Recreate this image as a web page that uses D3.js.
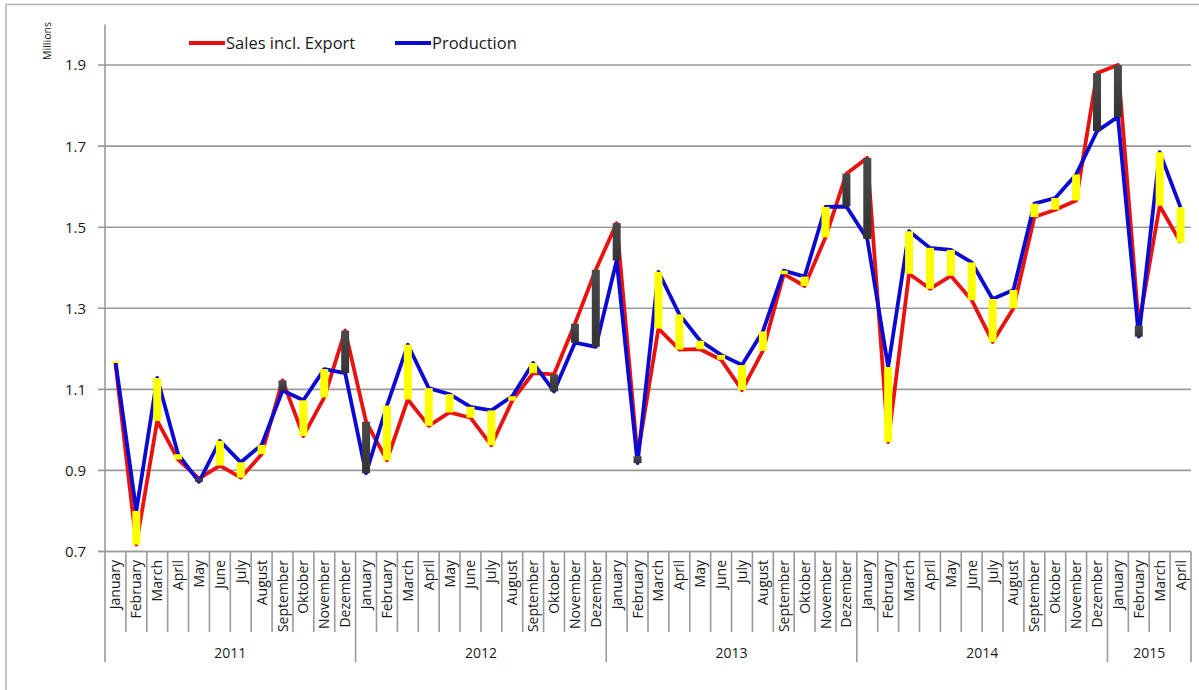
<!DOCTYPE html>
<html>
<head>
<meta charset="utf-8">
<script src="https://cdn.jsdelivr.net/npm/d3@7"></script>
<style>
  html, body { margin: 0; padding: 0; background: #fff; }
  svg { display: block; font-family: "Open Sans", Lato, sans-serif; }
</style>
</head>
<body>
<svg id="chart" width="1199" height="690"></svg>
<script>
// Monthly sales (incl. export) and production, in millions
const years = ["2011", "2012", "2013", "2014", "2015"];
const monthNames = ["January", "February", "March", "April", "May", "June", "July",
  "August", "September", "Oktober", "November", "Dezember"];
const monthsPerYear = [12, 12, 12, 12, 4];

const sales = [
  1.165, 0.717, 1.022, 0.927, 0.880, 0.912, 0.882, 0.940, 1.122, 0.985, 1.080, 1.245,
  1.020, 0.925, 1.075, 1.010, 1.043, 1.030, 0.962, 1.072, 1.140, 1.137, 1.262, 1.395,
  1.510, 0.935, 1.250, 1.198, 1.199, 1.173, 1.098, 1.195, 1.384, 1.355, 1.475, 1.632,
  1.671, 0.970, 1.385, 1.348, 1.380, 1.320, 1.217, 1.300, 1.525, 1.543, 1.566, 1.880,
  1.900, 1.257, 1.553, 1.462
];
const production = [
  1.170, 0.800, 1.128, 0.940, 0.872, 0.973, 0.920, 0.963, 1.097, 1.073, 1.150, 1.140,
  0.893, 1.060, 1.210, 1.103, 1.088, 1.057, 1.048, 1.083, 1.165, 1.095, 1.215, 1.205,
  1.418, 0.918, 1.390, 1.285, 1.220, 1.185, 1.160, 1.243, 1.393, 1.378, 1.550, 1.551,
  1.471, 1.155, 1.490, 1.449, 1.444, 1.413, 1.323, 1.345, 1.558, 1.572, 1.630, 1.737,
  1.772, 1.230, 1.685, 1.549
];
const yTicks = [0.7, 0.9, 1.1, 1.3, 1.5, 1.7, 1.9];

const seriesNames = ["Sales incl. Export", "Production"];
const seriesColors = ["#e8120f", "#0a0ad2"];

// Flatten into one row per month
const rows = [];
years.forEach((yr, yi) => {
  for (let m = 0; m < monthsPerYear[yi]; m++) {
    const i = rows.length;
    rows.push({ i, year: yr, month: monthNames[m], sales: sales[i], production: production[i] });
  }
});

const svg = d3.select("#chart");
const plotLeft = 105, plotRight = 1191, plotTop = 24.5, plotBottom = 551.5;

const x = d3.scaleBand().domain(rows.map(d => d.i)).range([plotLeft, plotRight]).padding(0);
const y = d3.scaleLinear().domain([0.7, 2.0]).range([plotBottom, plotTop]);

// Chart frame
svg.append("rect")
  .attr("x", 6).attr("y", 4.5).attr("width", 1300).attr("height", 800)
  .attr("fill", "none").attr("stroke", "#b4b4b4").attr("stroke-width", 1.5);

// Horizontal gridlines with ticks
svg.append("g").selectAll("line").data(yTicks).join("line")
  .attr("x1", 98).attr("x2", plotRight)
  .attr("y1", d => y(d)).attr("y2", d => y(d))
  .attr("stroke", "#9a9a9a").attr("stroke-width", 1.6);

// Value axis
svg.append("line")
  .attr("x1", plotLeft).attr("x2", plotLeft).attr("y1", plotTop).attr("y2", plotBottom)
  .attr("stroke", "#9a9a9a").attr("stroke-width", 1.6);
svg.append("g").selectAll("text").data(yTicks).join("text")
  .attr("x", 86).attr("y", d => y(d)).attr("dy", "0.36em")
  .attr("text-anchor", "end").attr("font-size", 15).attr("fill", "#1a1a1a")
  .text(d => d3.format(".1f")(d));
svg.append("text")
  .attr("transform", "translate(51,41) rotate(-90)")
  .attr("text-anchor", "middle").attr("font-size", 10.5).attr("fill", "#1a1a1a")
  .text("Millions");

// Category axis: month cells and year groups
const cat = svg.append("g");
cat.append("line")
  .attr("x1", 98).attr("x2", plotRight).attr("y1", plotBottom).attr("y2", plotBottom)
  .attr("stroke", "#9a9a9a").attr("stroke-width", 1.6);

const yearStarts = [];
let acc = 0;
monthsPerYear.forEach(n => { yearStarts.push(acc); acc += n; });
const edgeX = k => k < rows.length ? x(k) : x(k - 1) + x.bandwidth();
cat.selectAll("line.sep").data(d3.range(rows.length + 1)).join("line")
  .attr("class", "sep")
  .attr("x1", edgeX).attr("x2", edgeX)
  .attr("y1", plotBottom)
  .attr("y2", k => (yearStarts.includes(k) || k === rows.length) ? 662 : 632)
  .attr("stroke", "#9a9a9a").attr("stroke-width", 1.6);

cat.selectAll("text.month").data(rows).join("text")
  .attr("class", "month")
  .attr("transform", d => `translate(${x(d.i) + x.bandwidth() / 2 + 5},560) rotate(-90)`)
  .attr("text-anchor", "end").attr("font-size", 14).attr("fill", "#1a1a1a")
  .text(d => d.month);

cat.selectAll("text.year").data(years).join("text")
  .attr("class", "year")
  .attr("x", (d, k) => (edgeX(yearStarts[k]) + edgeX(yearStarts[k] + monthsPerYear[k])) / 2)
  .attr("y", 658).attr("text-anchor", "middle").attr("font-size", 14).attr("fill", "#1a1a1a")
  .text(d => d);

// Series lines
const line = key => d3.line().x(d => x(d.i) + x.bandwidth() / 2).y(d => y(d[key]));
svg.append("path").datum(rows)
  .attr("d", line("sales")).attr("fill", "none")
  .attr("stroke", seriesColors[0]).attr("stroke-width", 3.8).attr("stroke-linejoin", "round");
svg.append("path").datum(rows)
  .attr("d", line("production")).attr("fill", "none")
  .attr("stroke", seriesColors[1]).attr("stroke-width", 3.8).attr("stroke-linejoin", "round");

// Up/down bars between the two series
const defs = svg.append("defs");
const grad = defs.append("linearGradient").attr("id", "downFill")
  .attr("x1", 0).attr("x2", 0).attr("y1", 0).attr("y2", 1);
grad.append("stop").attr("offset", "0%").attr("stop-color", "#4a4a4a");
grad.append("stop").attr("offset", "100%").attr("stop-color", "#333333");

const barW = 8;
svg.append("g").selectAll("rect").data(rows).join("rect")
  .attr("x", d => x(d.i) + x.bandwidth() / 2 - barW / 2)
  .attr("width", barW)
  .attr("y", d => y(Math.max(d.sales, d.production)))
  .attr("height", d => Math.max(2, Math.abs(y(d.sales) - y(d.production))))
  .attr("fill", d => d.production >= d.sales ? "#ffff00" : "url(#downFill)");

// Legend
const legend = svg.append("g");
const legendX = [189, 395];
seriesNames.forEach((name, k) => {
  legend.append("line")
    .attr("x1", legendX[k]).attr("x2", legendX[k] + 36).attr("y1", 43).attr("y2", 43)
    .attr("stroke", seriesColors[k]).attr("stroke-width", 3.8);
  legend.append("text")
    .attr("x", legendX[k] + 37).attr("y", 43).attr("dy", "0.35em")
    .attr("font-size", 16.5).attr("fill", "#1a1a1a")
    .text(name);
});
</script>
</body>
</html>
